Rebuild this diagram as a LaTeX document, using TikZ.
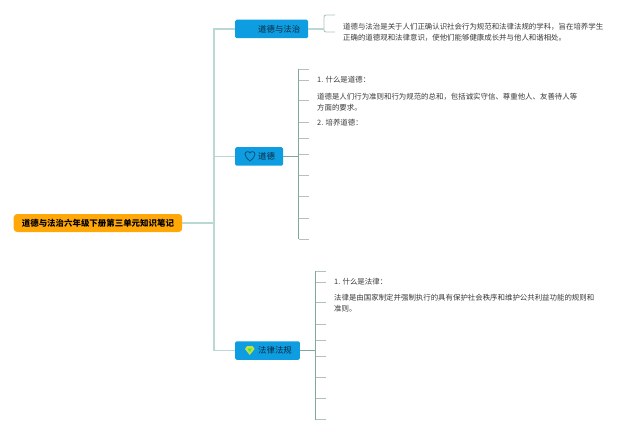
\documentclass[tikz,border=0pt]{standalone}
\usepackage{fontspec}
\setmainfont{Noto Sans CJK SC}
\definecolor{bluebox}{HTML}{0E9DE0}
\definecolor{orangebox}{HTML}{FFA808}
\definecolor{boxtext}{HTML}{0A2A40}
\definecolor{bodytext}{HTML}{3A3A3A}
\definecolor{spineone}{HTML}{B9D8D1}
\definecolor{spinetwo}{HTML}{7FA99F}
\definecolor{stubline}{HTML}{B0C2BC}
\tikzset{
  x=1pt,y=-1pt,
  topicbox/.style={fill=bluebox,rounded corners=1.5pt,inner sep=0pt,minimum height=18.5pt,text=boxtext,
    font=\fontsize{8.4}{10}\selectfont,anchor=west},
  rootbox/.style={fill=orangebox,rounded corners=3.5pt,inner sep=0pt,minimum height=18pt,minimum width=168.5pt,text=black,
    font=\fontsize{8.45}{10}\selectfont\bfseries,anchor=west},
  bodylabel/.style={anchor=west,inner sep=0pt,text=bodytext,font=\fontsize{7.43}{9}\selectfont},
  trunk/.style={draw=spineone,line width=1.1pt},
  bracketline/.style={draw=spinetwo,line width=1pt},
  stub/.style={draw=stubline,line width=0.9pt},
}
\newcommand{\padded}[1]{\hspace*{23pt}#1\hspace*{8pt}}
\begin{document}
\begin{tikzpicture}
\useasboundingbox (0,0) rectangle (640,433);
\fill[white] (0,0) rectangle (640,433);
% hub and nodes
\node[rootbox] (root) at (13.5,223) {道德与法治六年级下册第三单元知识笔记};
\coordinate (hub) at (214,223);
\node[topicbox] (ta) at (235,29) {\padded{道德与法治}};
\node[topicbox] (tb) at (235,156.5) {\padded{道德}};
\node[topicbox] (tc) at (235,350.5) {\padded{法律法规}};
% trunk
\draw[trunk] (root.east) -- (hub);
\draw[trunk] (ta.west) -| (hub);
\draw[trunk] (tb.west) -| (hub);
\draw[trunk] (tc.west) -| (hub);
% branch A
\coordinate (atop) at (324,15);
\coordinate (abot) at (324,32);
\coordinate (amid) at (324,29);
\coordinate (atopend) at (335,15);
\coordinate (abotend) at (335,32);
\draw[stub,rounded corners=2pt] (atopend) -- (atop) -- (abot) -- (abotend);
\draw[trunk] (ta.east) -- (amid);
% branch B
\coordinate (btop) at (298.5,69);
\coordinate (bbot) at (298.5,239);
\coordinate (bmid) at (298.5,156.5);
\draw[bracketline] (btop) -- (bbot);
\draw[bracketline] (tb.east) -- (bmid);
\foreach \i/\y in {1/69,2/80,3/100,4/122,5/138,6/154,7/175,8/196.5,9/218,10/239}{
  \coordinate (bs\i) at (309,\y);
  \draw[stub] (btop |- bs\i) -- (bs\i);
}
% branch C
\coordinate (ctop) at (315.5,271);
\coordinate (cbot) at (315.5,419.5);
\coordinate (cmid) at (315.5,350.5);
\draw[bracketline] (ctop) -- (cbot);
\draw[bracketline] (tc.east) -- (cmid);
\foreach \i/\y in {1/271,2/282,3/302.5,4/324,5/340,6/356,7/377,8/398,9/419.5}{
  \coordinate (cs\i) at (326,\y);
  \draw[stub] (ctop |- cs\i) -- (cs\i);
}
% icons
\draw[draw=boxtext!65!bluebox,line width=0.8pt,line join=round]
  (250,161) .. controls (247,158.5) and (245,156.5) .. (245,154.2)
  .. controls (245,151.5) and (248.8,150.5) .. (250,153)
  .. controls (251.2,150.5) and (255,151.5) .. (255,154.2)
  .. controls (255,156.5) and (253,158.5) .. (250,161) -- cycle;
\fill[yellow!70!green!80!white] (247,346) -- (252.5,346) -- (254.5,349) -- (249.75,355) -- (245,349) -- cycle;
\fill[green!60!yellow!75!bluebox] (247.5,348.6) -- (252,348.6) -- (249.75,352.2) -- cycle;
% texts
\node[bodylabel] (a1) at (343,27) {道德与法治是关于人们正确认识社会行为规范和法律法规的学科，旨在培养学生};
\node[bodylabel] (a2) at (343,38) {正确的道德观和法律意识，使他们能够健康成长并与他人和谐相处。};
\node[bodylabel] (b1) at (317,80) {1. 什么是道德：};
\node[bodylabel] (b2) at (317,96.5) {道德是人们行为准则和行为规范的总和，包括诚实守信、尊重他人、友善待人等};
\node[bodylabel] (b3) at (317,107.5) {方面的要求。};
\node[bodylabel] (b4) at (317,122.5) {2. 培养道德：};
\node[bodylabel] (c1) at (334,282) {1. 什么是法律：};
\node[bodylabel] (c2) at (334,298) {法律是由国家制定并强制执行的具有保护社会秩序和维护公共利益功能的规则和};
\node[bodylabel] (c3) at (334,309) {准则。};
\end{tikzpicture}
\end{document}
